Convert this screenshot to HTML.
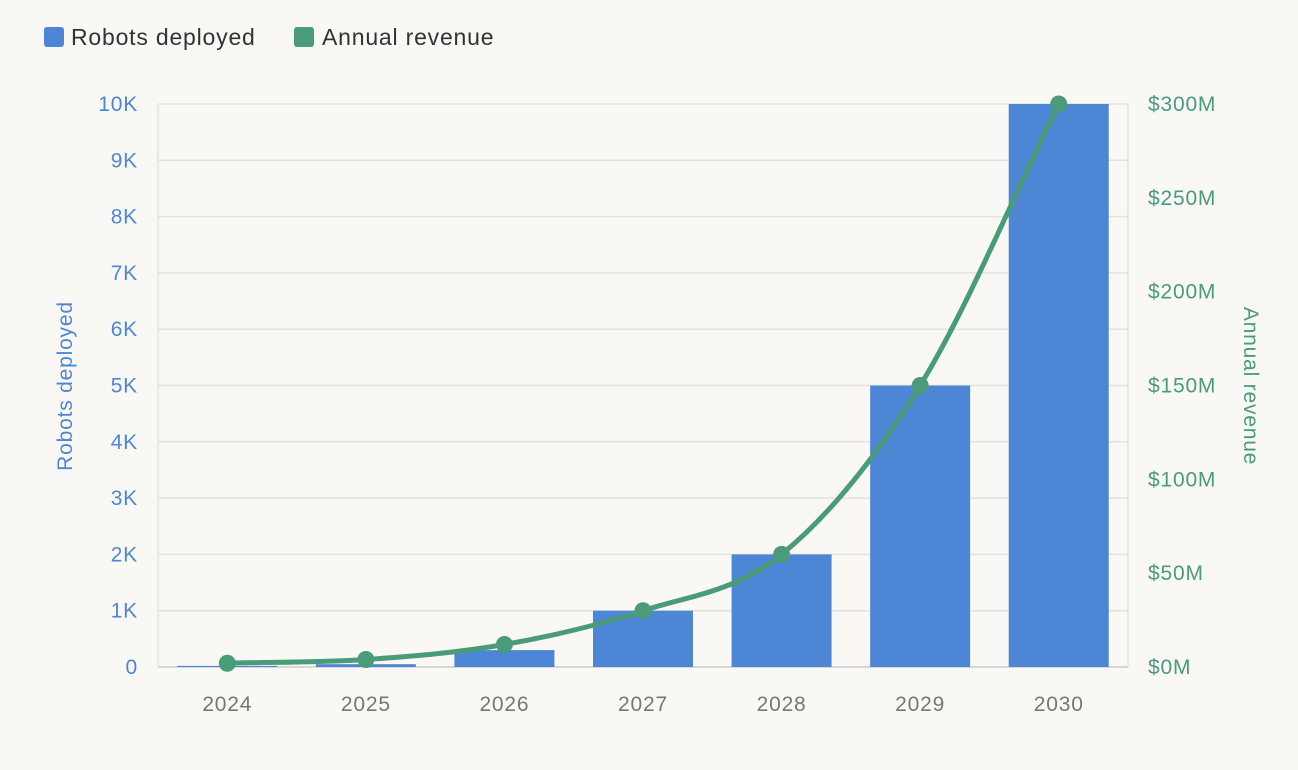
<!DOCTYPE html>
<html><head><meta charset="utf-8"><style>
body{margin:0;background:#f9f8f5;font-family:"Liberation Sans",sans-serif}
svg{display:block}
text{letter-spacing:0.8px}
</style></head><body>
<svg id="c" width="1298" height="770">
<g>
<rect x="44" y="27" width="20" height="20" rx="3" fill="#4e86d6"/>
<text x="71" y="45" font-size="23" fill="#333">Robots deployed</text>
<rect x="294" y="27" width="20" height="20" rx="3" fill="#4a9c78"/>
<text x="322" y="45" font-size="23" fill="#333">Annual revenue</text>
</g>
<text transform="translate(72,386) rotate(-90)" text-anchor="middle" font-size="21" fill="#4e86d6">Robots deployed</text>
<text transform="translate(1244,386) rotate(90)" text-anchor="middle" font-size="21" fill="#4a9c78">Annual revenue</text>
<g id="g"></g>
</svg>
<script>
const years=["2024","2025","2026","2027","2028","2029","2030"];
const robots=[20,50,300,1000,2000,5000,10000];
const revenue=[2,4,12,30,60,150,300];
const leftTicks=[0,1000,2000,3000,4000,5000,6000,7000,8000,9000,10000];
const leftLabels=["0","1K","2K","3K","4K","5K","6K","7K","8K","9K","10K"];
const rightTicks=[0,50,100,150,200,250,300];
const rightLabels=["$0M","$50M","$100M","$150M","$200M","$250M","$300M"];
const X0=158,X1=1128,Y0=667,Y1=104,band=(X1-X0)/years.length;
const xc=i=>X0+band*(i+0.5);
const yl=v=>Y0-(v/10000)*(Y0-Y1);
const yr=v=>Y0-(v/300)*(Y0-Y1);
const g=document.getElementById('g');
const NS="http://www.w3.org/2000/svg";
function mk(t,a){const e=document.createElementNS(NS,t);for(const k in a)e.setAttribute(k,a[k]);g.appendChild(e);return e;}
leftTicks.forEach((v,i)=>{
 const l=mk('line',{x1:X0,x2:X1,y1:yl(v),y2:yl(v),stroke:i==0?'#ccc':'#e4e2de','stroke-width':1.5});
 
 
 const t=mk('text',{x:138,y:yl(v)+7,'text-anchor':'end','font-size':21,fill:'#4e86d6'});t.textContent=leftLabels[i];
 
 
});
const ax=mk('line',{x1:X0,x2:X0,y1:Y1,y2:Y0,stroke:'#e4e2de','stroke-width':1.5});


const ax2=mk('line',{x1:X1,x2:X1,y1:Y1,y2:Y0,stroke:'#e4e2de','stroke-width':1.5});


rightTicks.forEach((v,i)=>{
 const t=mk('text',{x:1148,y:yr(v)+7,'font-size':21,fill:'#4a9c78'});t.textContent=rightLabels[i];
 
 
});
years.forEach((y,i)=>{
 const b=mk('rect',{x:xc(i)-50,y:yl(robots[i]),width:100,height:Y0-yl(robots[i]),fill:'#4e86d6'});
 
 
 const t=mk('text',{x:xc(i),y:711,'text-anchor':'middle','font-size':21,fill:'#777'});t.textContent=y;
 
 
});
const px=years.map((_,i)=>xc(i)),py=revenue.map(yr),n=px.length;
const dx=[],m=[];for(let i=0;i<n-1;i++){dx.push(px[i+1]-px[i]);m.push((py[i+1]-py[i])/dx[i]);}
const t=[m[0]];for(let i=1;i<n-1;i++)t.push(m[i-1]*m[i]<=0?0:(m[i-1]+m[i])/2);t.push(m[n-2]);
for(let i=0;i<n-1;i++){if(m[i]===0){t[i]=t[i+1]=0;continue;}const a=t[i]/m[i],b=t[i+1]/m[i],s=a*a+b*b;if(s>9){const k=3/Math.sqrt(s);t[i]=k*a*m[i];t[i+1]=k*b*m[i];}}
let d=`M${px[0]},${py[0]}`;
for(let i=0;i<n-1;i++){const h=dx[i]/3;d+=` C${px[i]+h},${py[i]+t[i]*h} ${px[i+1]-h},${py[i+1]-t[i+1]*h} ${px[i+1]},${py[i+1]}`;}
const ln=mk('path',{d:d,fill:'none',stroke:'#4a9c78','stroke-width':5,'stroke-linecap':'round'});


years.forEach((y,i)=>{
 const c=mk('circle',{cx:px[i],cy:py[i],r:8.5,fill:'#4a9c78'});
 
 
});
</script>
</body></html>
